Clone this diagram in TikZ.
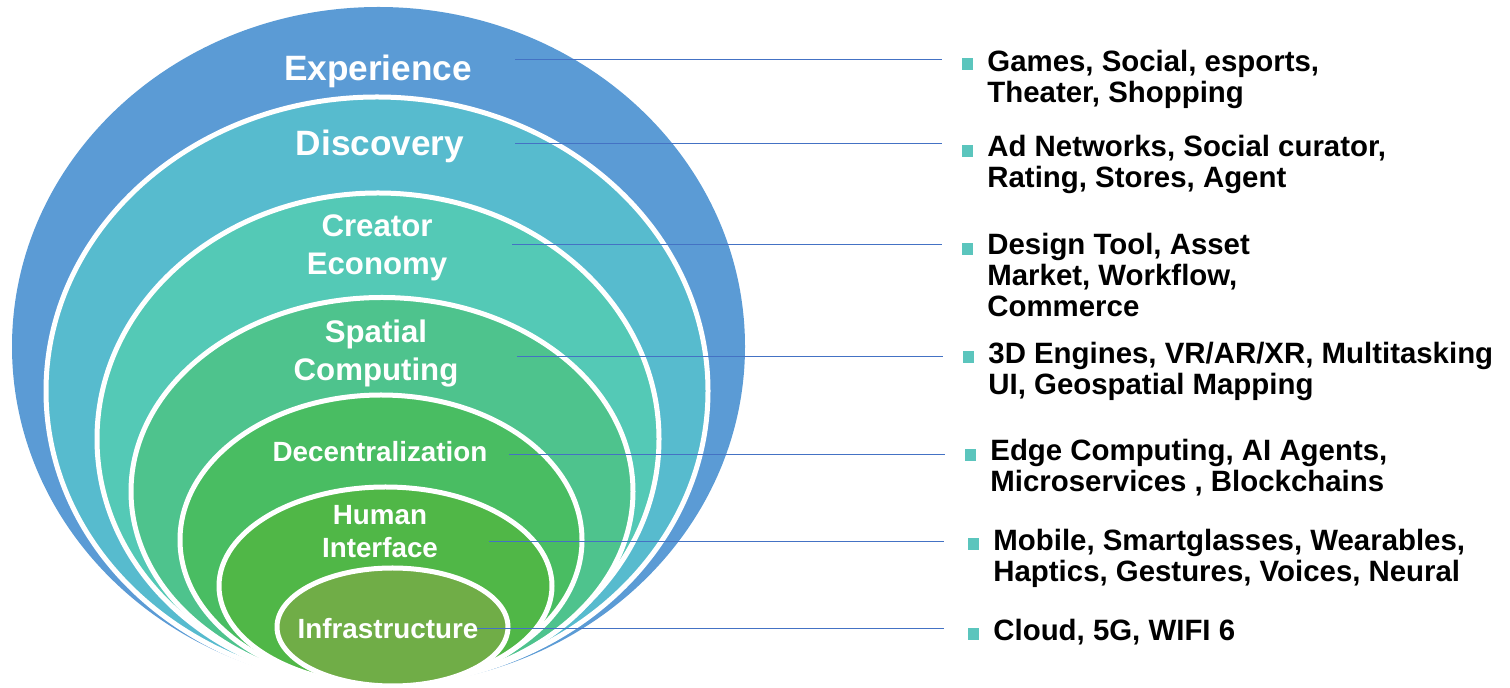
\documentclass[tikz,border=0pt]{standalone}
\usepackage{fontspec}
\setmainfont{Liberation Sans}
\usepackage{tikz}
\definecolor{experiencecol}{HTML}{5B9BD5}
\definecolor{discoverycol}{HTML}{57BBCE}
\definecolor{creatorcol}{HTML}{54C9B6}
\definecolor{spatialcol}{HTML}{4EC38D}
\definecolor{decentralcol}{HTML}{49BD62}
\definecolor{humancol}{HTML}{50B747}
\definecolor{infracol}{HTML}{70AD47}
\definecolor{bulletcol}{HTML}{5BC5BD}
\definecolor{linkcol}{HTML}{4472C4}
\tikzset{
  ring/.style={draw=white,line width=2.5pt},
  lbl/.style={text=white,font=\bfseries,inner sep=0pt,anchor=base},
  item/.style={text=black,font=\bfseries,inner sep=0pt,anchor=base west},
  bullet/.style={fill=bulletcol,minimum width=5.5pt,minimum height=6pt,inner sep=0pt},
  link/.style={draw=linkcol,line width=0.5pt}
}
\newcommand{\bigtxt}{\fontsize{17.6}{21}\selectfont}
\newcommand{\midtxt}{\fontsize{15.6}{19}\selectfont}
\newcommand{\smalltxt}{\fontsize{13.9}{16.3}\selectfont}
\newcommand{\listtxt}{\fontsize{14.7}{15.5}\selectfont}

\begin{document}
\begin{tikzpicture}[x=0.5pt,y=-0.5pt]
\useasboundingbox (0,0) rectangle (1510,688);

\fill[experiencecol] (378.5,346.5) ellipse [x radius=366.5, y radius=339.5];
\filldraw[fill=discoverycol,ring] (377,391) ellipse [x radius=331, y radius=294];
\filldraw[fill=creatorcol,ring] (378,439) ellipse [x radius=281, y radius=246];
\filldraw[fill=spatialcol,ring] (382,491.5) ellipse [x radius=251, y radius=194];
\filldraw[fill=decentralcol,ring] (381,540) ellipse [x radius=201, y radius=145];
\filldraw[fill=humancol,ring] (385.5,586) ellipse [x radius=166.5, y radius=99];
\filldraw[fill=infracol,ring] (392.5,627) ellipse [x radius=115.5, y radius=59];

\node[lbl] (experience) at (378,81) {\bigtxt Experience};
\node[lbl] (discovery) at (380,156) {\bigtxt Discovery};
\node[lbl] (creator) at (377,237) {\midtxt\begin{tabular}[t]{@{}c@{}}Creator\\Economy\end{tabular}};
\node[lbl] (spatial) at (376,343) {\midtxt\begin{tabular}[t]{@{}c@{}}Spatial\\Computing\end{tabular}};
\node[lbl] (decentral) at (380,462) {\smalltxt Decentralization};
\node[lbl] (human) at (380,525) {\smalltxt\begin{tabular}[t]{@{}c@{}}Human\\Interface\end{tabular}};
\node[lbl] (infra) at (388,639) {\smalltxt Infrastructure};

\coordinate (s1) at (515,60);
\coordinate (s2) at (515,144);
\coordinate (s3) at (512,245);
\coordinate (s4) at (517,357);
\coordinate (s5) at (509,455);
\coordinate (s6) at (489,542);
\coordinate (s7) at (477,629);

\node[bullet] (b1) at (967.5,64) {};
\node[bullet] (b2) at (967.5,151) {};
\node[bullet] (b3) at (967.5,249) {};
\node[bullet] (b4) at (968.5,357.5) {};
\node[bullet] (b5) at (970.5,455) {};
\node[bullet] (b6) at (973.5,544) {};
\node[bullet] (b7) at (973.5,634) {};

\node[item] (t1) at (987,72) {\listtxt\begin{tabular}[t]{@{}l@{}}Games, Social, esports,\\Theater, Shopping\end{tabular}};
\node[item] (t2) at (987,157) {\listtxt\begin{tabular}[t]{@{}l@{}}Ad Networks, Social curator,\\Rating, Stores, Agent\end{tabular}};
\node[item] (t3) at (987,255) {\listtxt\begin{tabular}[t]{@{}l@{}}Design Tool, Asset\\Market, Workflow,\\Commerce\end{tabular}};
\node[item] (t4) at (988,364) {\listtxt\begin{tabular}[t]{@{}l@{}}3D Engines, VR/AR/XR, Multitasking\\UI, Geospatial Mapping\end{tabular}};
\node[item] (t5) at (990,461) {\listtxt\begin{tabular}[t]{@{}l@{}}Edge Computing, AI Agents,\\Microservices , Blockchains\end{tabular}};
\node[item] (t6) at (993,551) {\listtxt\begin{tabular}[t]{@{}l@{}}Mobile, Smartglasses, Wearables,\\Haptics, Gestures, Voices, Neural\end{tabular}};
\node[item] (t7) at (993,641) {\listtxt Cloud, 5G, WIFI 6};

\draw[link] (s1) -- ([xshift=-10pt]s1 -| b1.west);
\draw[link] (s2) -- ([xshift=-10pt]s2 -| b2.west);
\draw[link] (s3) -- ([xshift=-10pt]s3 -| b3.west);
\draw[link] (s4) -- ([xshift=-10pt]s4 -| b4.west);
\draw[link] (s5) -- ([xshift=-10pt]s5 -| b5.west);
\draw[link] (s6) -- ([xshift=-12pt]s6 -| b6.west);
\draw[link] (s7) -- ([xshift=-12pt]s7 -| b7.west);
\end{tikzpicture}
\end{document}
